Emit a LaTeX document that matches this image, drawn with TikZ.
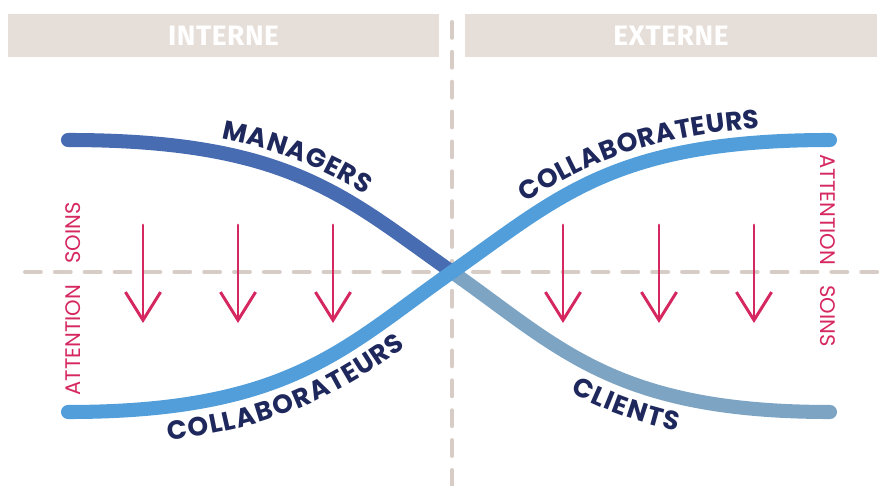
\documentclass[tikz,border=0pt]{standalone}
\usepackage{fontspec}
\setmainfont{Poppins}
\newfontfamily\headfont[LetterSpace=2]{Fira Sans}
\usetikzlibrary{arrows.meta,decorations.text}

\definecolor{barbg}{RGB}{230,222,216}
\definecolor{dashgray}{RGB}{215,204,198}
\definecolor{mgrblue}{RGB}{72,108,178}
\definecolor{colblue}{RGB}{82,158,218}
\definecolor{cliblue}{RGB}{126,164,196}
\definecolor{navy}{RGB}{30,40,92}
\definecolor{rose}{RGB}{214,40,96}

\newcommand{\tagfont}{\fontsize{15}{15}\selectfont\bfseries}

\begin{document}
\begin{tikzpicture}[x=0.02cm,y=-0.02cm,
  dashline/.style={draw=dashgray, line width=2.3pt, line cap=round, dash pattern=on 9pt off 8pt},
  flow/.style={draw=#1, line width=8pt, line cap=round},
  head/.style={text=white, font=\headfont\bfseries\fontsize{16}{16}\selectfont},
  care/.style={draw=rose, line width=1.7pt, line cap=round, -{Straight Barb[length=16pt,width=20pt]}},
  side/.style={text=rose, font=\fontsize{12}{12}\selectfont, inner sep=0pt}]
\useasboundingbox (0,0) rectangle (883,486);

% header bars
\fill[barbg] (8,14) rectangle (439,57) node[head,pos=.5] (interne) {INTERNE};
\fill[barbg] (465,14) rectangle (877,57) node[head,pos=.5] (externe) {EXTERNE};

% axes
\draw[dashline] (452,22) -- (452,486);
\draw[dashline] (25,272) -- (883,272);

% end points of the curves
\coordinate (mgr) at (68,140);
\coordinate (colin) at (68,412);
\coordinate (cross) at (452,272);
\coordinate (colex) at (830,140);
\coordinate (cli) at (830,412);

% curves
\draw[flow=mgrblue] (mgr) .. controls (290,140) and (345,197) .. (cross);
\draw[flow=cliblue] (cross) .. controls (559,347) and (614,412) .. (cli);
\draw[flow=colblue] (colin) .. controls (290,412) and (345,347) .. (cross)
  .. controls (559,197) and (614,140) .. (colex);

% curve labels
\path[decorate,decoration={text along path, text color=navy,
  text align={align=center,left indent=21pt}, raise=8pt, text={|\tagfont|MANAGERS}}]
  (mgr) .. controls (290,140) and (345,197) .. (cross);
\path[decorate,decoration={text along path, text color=navy,
  text align={align=center,left indent=9pt}, raise=-19pt, text={|\tagfont|COLLABORATEURS}}]
  (colin) .. controls (290,412) and (345,347) .. (cross);
\path[decorate,decoration={text along path, text color=navy,
  text align={align=center,left indent=17pt}, raise=8pt, text={|\tagfont|COLLABORATEURS}}]
  (cross) .. controls (559,197) and (614,140) .. (colex);
\path[decorate,decoration={text along path, text color=navy,
  text align={align=center,left indent=9pt}, raise=-19pt, text={|\tagfont|CLIENTS}}]
  (cross) .. controls (559,347) and (614,412) .. (cli);

% arrows
\foreach \x in {143,238,333,563,659,754}
  \draw[care] (\x,225) -- (\x,323);

% side labels
\node[side,rotate=90] (attin) at (73,340) {ATTENTION};
\node[side,rotate=90] (soinin) at (73,233) {SOINS};
\node[side,rotate=-90] (attex) at (828,210) {ATTENTION};
\node[side,rotate=-90] (soinex) at (828,316) {SOINS};
\end{tikzpicture}
\end{document}
